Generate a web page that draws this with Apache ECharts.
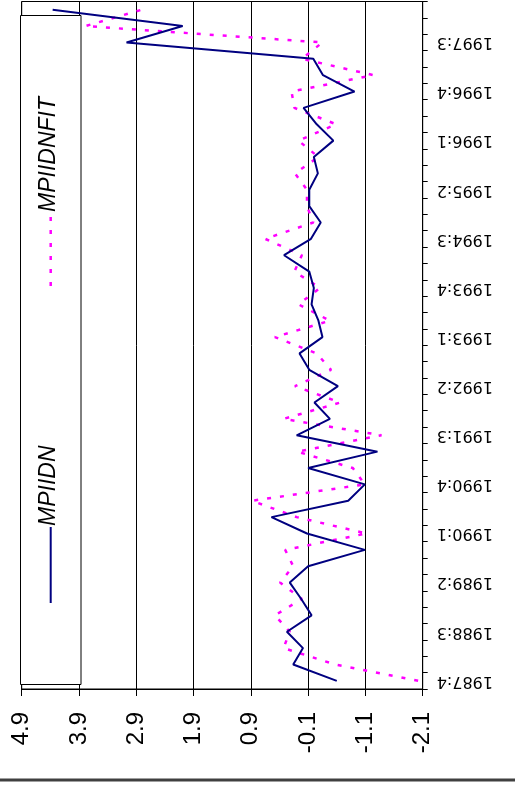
<!DOCTYPE html>
<html>
<head>
<meta charset="utf-8">
<script src="https://cdn.jsdelivr.net/npm/echarts@6/dist/echarts.min.js"></script>
<style>
html,body{margin:0;padding:0;background:#fff;}
#chart{width:515px;height:787px;}
</style>
</head>
<body>
<div id="chart"></div>
<script>
const categories = [
  "1987:4",
  "1988:1","1988:2","1988:3","1988:4",
  "1989:1","1989:2","1989:3","1989:4",
  "1990:1","1990:2","1990:3","1990:4",
  "1991:1","1991:2","1991:3","1991:4",
  "1992:1","1992:2","1992:3","1992:4",
  "1993:1","1993:2","1993:3","1993:4",
  "1994:1","1994:2","1994:3","1994:4",
  "1995:1","1995:2","1995:3","1995:4",
  "1996:1","1996:2","1996:3","1996:4",
  "1997:1","1997:2","1997:3","1997:4",
  "1998:1"
];
const mpiidn = [
  -0.60, 0.16, -0.01, 0.27, -0.16, 0.02, 0.22, -0.10, -1.09, -0.08,
  0.54, -0.80, -1.09, -0.10, -1.31, 0.10, -0.48, -0.21, -0.62, -0.12,
  0.05, -0.35, -0.28, -0.16, -0.20, -0.12, 0.32, -0.15, -0.32, -0.12,
  -0.12, -0.27, -0.20, -0.54, -0.25, -0.02, -0.91, -0.36, -0.19, 3.07,
  2.09, 4.36
];
const mpiidnfit = [
  -2.02, -0.57, 0.33, 0.22, 0.48, 0.01, 0.39, 0.16, 0.30, -1.12,
  0.10, 0.88, -1.09, -0.88, 0.09, -1.38, 0.33, -0.66, 0.13, -0.50,
  -0.25, 0.48, -0.48, 0.07, -0.31, 0.14, 0.01, 0.65, -0.19, -0.08,
  -0.08, 0.13, -0.28, 0.07, -0.59, 0.14, 0.19, -1.24, 0.01, -0.35,
  3.79, 2.80
];
const valueTicks = [-2.1, -1.1, -0.1, 0.9, 1.9, 2.9, 3.9, 4.9];
const seriesNames = ["MPIIDN", "MPIIDNFIT"];

const chart = echarts.init(document.getElementById('chart'), null, {renderer: 'canvas'});
const option = {
  animation: false,
  backgroundColor: '#ffffff',
  grid: {
    left: 21.7, right: 92.3, top: 1.5, bottom: 98,
    show: true, borderColor: '#000', borderWidth: 1, backgroundColor: 'transparent'
  },
  xAxis: {
    type: 'value',
    inverse: true,
    position: 'bottom',
    min: valueTicks[0],
    max: valueTicks[valueTicks.length - 1],
    interval: 1,
    axisLine: {show: true, onZero: false, lineStyle: {color: '#000', width: 1}},
    axisTick: {show: true, length: 7, lineStyle: {color: '#000'}},
    splitLine: {show: true, lineStyle: {color: '#000', width: 1}},
    axisLabel: {
      rotate: 90,
      margin: 23,
      color: '#000',
      fontFamily: 'Liberation Sans, Arial, sans-serif',
      fontSize: 24,
      formatter: function (v) { return (Math.round(v * 10) / 10).toFixed(1); }
    }
  },
  yAxis: {
    type: 'category',
    position: 'right',
    data: categories,
    boundaryGap: true,
    axisLine: {show: true, onZero: false, lineStyle: {color: '#000', width: 1}},
    axisTick: {show: true, interval: 0, length: 5, lineStyle: {color: '#000'}},
    splitLine: {show: false},
    axisLabel: {
      interval: 2,
      rotate: 180,
      margin: 14,
      color: '#000',
      fontFamily: 'DejaVu Sans, sans-serif',
      fontSize: 16
    }
  },
  series: [
    {
      name: seriesNames[0],
      type: 'line',
      data: mpiidn,
      symbol: 'none',
      lineStyle: {color: '#000080', width: 2},
      z: 3
    },
    {
      name: seriesNames[1],
      type: 'line',
      data: mpiidnfit,
      symbol: 'none',
      lineStyle: {color: '#FF00FF', width: 2.5, type: [4, 9]},
      z: 2
    }
  ],
  graphic: [
    {
      type: 'rect', z: 100,
      shape: {x: 20.5, y: 15.5, width: 60.5, height: 669},
      style: {fill: '#fff', stroke: '#000', lineWidth: 1}
    },
    {
      type: 'line', z: 101,
      shape: {x1: 50.7, y1: 527, x2: 50.7, y2: 603},
      style: {stroke: '#000080', lineWidth: 2}
    },
    {
      type: 'text', z: 101, x: 49, y: 526, rotation: Math.PI / 2,
      style: {text: seriesNames[0], fill: '#000', font: 'italic 23px "Liberation Sans", Arial, sans-serif', align: 'left', verticalAlign: 'middle'}
    },
    {
      type: 'line', z: 101,
      shape: {x1: 50.7, y1: 217, x2: 50.7, y2: 287},
      style: {stroke: '#FF00FF', lineWidth: 2.5, lineDash: [4, 9]}
    },
    {
      type: 'text', z: 101, x: 49, y: 212, rotation: Math.PI / 2,
      style: {text: seriesNames[1], fill: '#000', font: 'italic 23px "Liberation Sans", Arial, sans-serif', align: 'left', verticalAlign: 'middle'}
    },
    {
      type: 'line', z: 101,
      shape: {x1: 0, y1: 780, x2: 515, y2: 780},
      style: {stroke: '#404040', lineWidth: 3}
    }
  ]
};
chart.setOption(option);
</script>
</body>
</html>
